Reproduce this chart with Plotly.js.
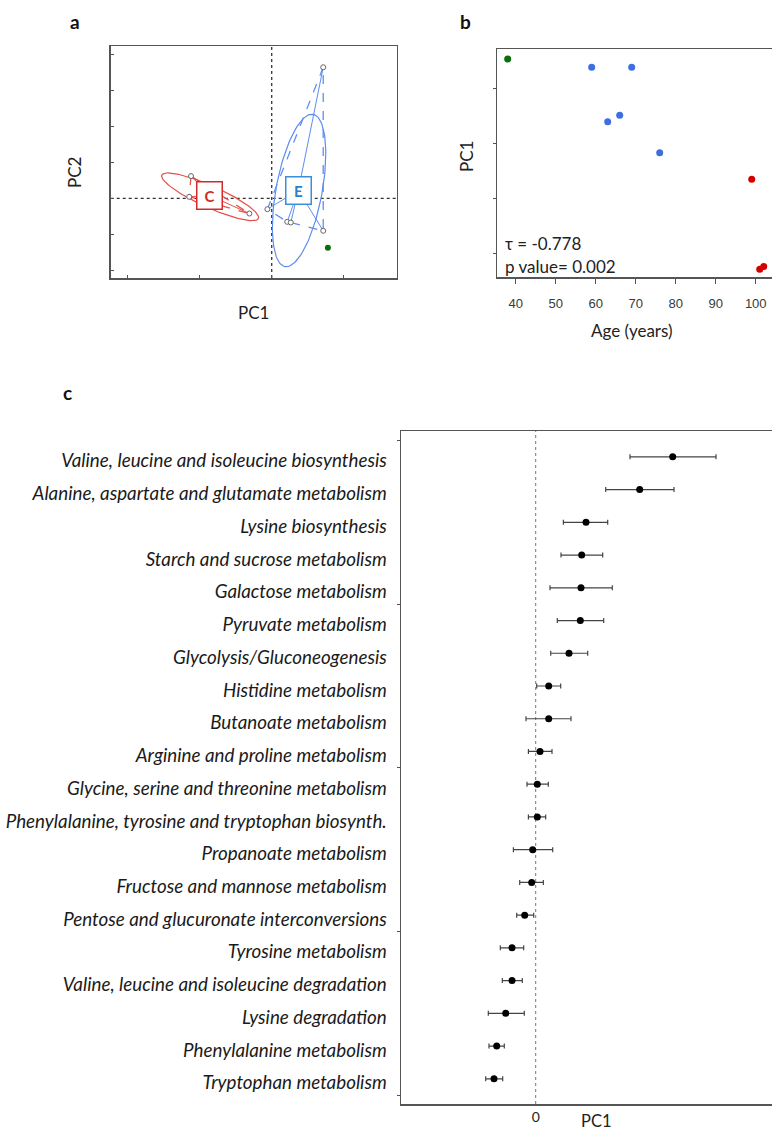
<!DOCTYPE html>
<html>
<head>
<meta charset="utf-8">
<script src="https://cdn.plot.ly/plotly-3.0.1.min.js"></script>
<style>html,body{margin:0;padding:0;background:#fff;}#chart{width:772px;height:1133px;}</style>
</head>
<body>
<div id="chart"></div>
<script>
// ---------- Panel a data (PCA scores) ----------
const cPC1 = [-2.24, -2.29, -0.62];
const cPC2 = [0.62, 0.044, -0.42];
const ePC1 = [1.43, -0.12, 0.43, 0.53, 1.43];
const ePC2 = [3.64, -0.30, -0.65, -0.67, -0.90];
const gPC1 = [1.56];
const gPC2 = [-1.37];
// confidence ellipses: [centre x, centre y, semi-major, semi-minor, angle deg]
const cEllipse = [-1.71, 0.044, 1.47, 0.30, -24.2];
const eEllipse = [0.76, 0.22, 2.15, 0.64, 79.5];
const cHullOrder = [0, 1, 2, 0];
const eHullOrder = [0, 1, 2, 3, 4, 0];

// ---------- Panel b data ----------
const ageGreen = [38];
const pcGreen = [3.53];
const ageBlue = [59, 69, 63, 66, 76];
const pcBlue = [3.38, 3.38, 2.39, 2.51, 1.83];
const ageRed = [99, 101, 102];
const pcRed = [1.35, -0.28, -0.23];
const tauText = "τ = -0.778";
const pText = "p value= 0.002";
const ageTicks = [40, 50, 60, 70, 80, 90, 100];

// ---------- Panel c data ----------
const pathways = [
  "Valine, leucine and isoleucine biosynthesis",
  "Alanine, aspartate and glutamate metabolism",
  "Lysine biosynthesis",
  "Starch and sucrose metabolism",
  "Galactose metabolism",
  "Pyruvate metabolism",
  "Glycolysis/Gluconeogenesis",
  "Histidine metabolism",
  "Butanoate metabolism",
  "Arginine and proline metabolism",
  "Glycine, serine and threonine metabolism",
  "Phenylalanine, tyrosine and tryptophan biosynth.",
  "Propanoate metabolism",
  "Fructose and mannose metabolism",
  "Pentose and glucuronate interconversions",
  "Tyrosine metabolism",
  "Valine, leucine and isoleucine degradation",
  "Lysine degradation",
  "Phenylalanine metabolism",
  "Tryptophan metabolism"
];
const pcMean = [2.74, 2.08, 1.006, 0.92, 0.906, 0.892, 0.666, 0.26, 0.26, 0.086, 0.032, 0.032, -0.06, -0.08, -0.22, -0.474, -0.474, -0.60, -0.78, -0.834];
const pcLow  = [1.886, 1.40, 0.553, 0.506, 0.286, 0.432, 0.30, 0.02, -0.194, -0.146, -0.174, -0.146, -0.446, -0.32, -0.38, -0.708, -0.668, -0.948, -0.934, -1.00];
const pcHigh = [3.606, 2.766, 1.44, 1.34, 1.532, 1.36, 1.04, 0.50, 0.706, 0.326, 0.252, 0.20, 0.34, 0.153, -0.04, -0.24, -0.268, -0.228, -0.628, -0.66];

// ---------- helpers ----------
const W = 772, H = 1133;
const px = v => v / W;
const py = v => 1 - v / H;
function ellipse(p) {
  const xs = [], ys = [];
  const t = p[4] * Math.PI / 180;
  for (let i = 0; i <= 120; i++) {
    const a = 2 * Math.PI * i / 120;
    const u = p[2] * Math.cos(a), v = p[3] * Math.sin(a);
    xs.push(p[0] + u * Math.cos(t) - v * Math.sin(t));
    ys.push(p[1] + u * Math.sin(t) + v * Math.cos(t));
  }
  return [xs, ys];
}
const mean = a => a.reduce((s, v) => s + v, 0) / a.length;
function spokes(xs, ys) {
  const cx = mean(xs), cy = mean(ys);
  const ox = [], oy = [];
  xs.forEach((x, i) => { ox.push(cx, x, null); oy.push(cy, ys[i], null); });
  return [ox, oy, cx, cy];
}

const RED = '#e5504a', BLUE = '#5c8ef0';
const traces = [];
const cE = ellipse(cEllipse), eE = ellipse(eEllipse);
traces.push({x: cE[0], y: cE[1], mode: 'lines', line: {color: RED, width: 1.2}, xaxis: 'x', yaxis: 'y', hoverinfo: 'skip'});
traces.push({x: eE[0], y: eE[1], mode: 'lines', line: {color: BLUE, width: 1.2}, xaxis: 'x', yaxis: 'y', hoverinfo: 'skip'});
traces.push({x: cHullOrder.map(i => cPC1[i]), y: cHullOrder.map(i => cPC2[i]), mode: 'lines', line: {color: RED, width: 1.3, dash: 'dash'}, xaxis: 'x', yaxis: 'y'});
traces.push({x: eHullOrder.map(i => ePC1[i]), y: eHullOrder.map(i => ePC2[i]), mode: 'lines', line: {color: BLUE, width: 1.3, dash: 'dash'}, xaxis: 'x', yaxis: 'y'});
const cS = spokes(cPC1, cPC2), eS = spokes(ePC1, ePC2);
traces.push({x: cS[0], y: cS[1], mode: 'lines', line: {color: RED, width: 1}, xaxis: 'x', yaxis: 'y'});
traces.push({x: eS[0], y: eS[1], mode: 'lines', line: {color: BLUE, width: 1}, xaxis: 'x', yaxis: 'y'});
traces.push({x: cPC1.concat(ePC1), y: cPC2.concat(ePC2), mode: 'markers', marker: {symbol: 'circle', size: 5, color: '#fff', line: {color: '#666', width: 1}}, xaxis: 'x', yaxis: 'y'});
traces.push({x: gPC1, y: gPC2, mode: 'markers', marker: {size: 6, color: '#0a6e0a'}, xaxis: 'x', yaxis: 'y'});

// panel b
traces.push({x: ageGreen, y: pcGreen, mode: 'markers', marker: {size: 7, color: '#0b6e0b'}, xaxis: 'x2', yaxis: 'y2', cliponaxis: false});
traces.push({x: ageBlue, y: pcBlue, mode: 'markers', marker: {size: 7, color: '#3d6fe0'}, xaxis: 'x2', yaxis: 'y2'});
traces.push({x: ageRed, y: pcRed, mode: 'markers', marker: {size: 7, color: '#d40000'}, xaxis: 'x2', yaxis: 'y2'});

// panel c
const rowIdx = pathways.map((_, i) => i);
traces.push({
  x: pcMean, y: rowIdx, mode: 'markers', xaxis: 'x3', yaxis: 'y3',
  marker: {size: 7, color: '#000'},
  error_x: {type: 'data', symmetric: false,
    array: pcHigh.map((h, i) => h - pcMean[i]),
    arrayminus: pcMean.map((m, i) => m - pcLow[i]),
    color: '#444', thickness: 1.2, width: 2.5}
});

const annoFont = {family: 'Lato, "Open Sans", sans-serif', size: 17, color: '#222'};
function txt(text, x, y, extra) {
  return Object.assign({text: text, x: px(x), y: py(y), xref: 'paper', yref: 'paper', xanchor: 'center', yanchor: 'middle', showarrow: false, font: annoFont}, extra || {});
}
const labelFont = {family: 'Lato', size: 19, color: '#111'};
const annotations = [
  txt('<b>a</b>', 75, 21, {font: labelFont}),
  txt('<b>b</b>', 465, 21, {font: labelFont}),
  txt('<b>c</b>', 67, 392, {font: labelFont}),
  txt('PC2', 75, 173, {textangle: -90}),
  txt('PC1', 253, 313),
  txt('PC1', 466, 157, {textangle: -90}),
  txt('Age (years)', 632, 331),
  txt('PC1', 596, 1121, {font: {family: 'Lato', size: 16.5, color: '#222'}}),
  txt(tauText, 503, 243, {xanchor: 'left', font: {family: 'Lato', size: 17, color: '#222'}}),
  txt(pText, 503, 266, {xanchor: 'left', font: {family: 'Lato', size: 17, color: '#222'}}),
  {text: '<b>C</b>', x: cS[2], y: cS[3], xref: 'x', yref: 'y', xanchor: 'center', yanchor: 'middle', showarrow: false, font: {family: 'Lato', size: 15, color: '#d42a2a'}, bgcolor: '#fff', bordercolor: '#d42a2a', borderwidth: 1.5, borderpad: 3, width: 18, height: 20},
  {text: '<b>E</b>', x: eS[2], y: eS[3], xref: 'x', yref: 'y', xanchor: 'center', yanchor: 'middle', showarrow: false, font: {family: 'Lato', size: 15, color: '#2a7fd0'}, bgcolor: '#fff', bordercolor: '#3a8fd8', borderwidth: 1.5, borderpad: 3, width: 18, height: 20}
];

const shapes = [
  {type: 'line', xref: 'x', yref: 'y domain', x0: 0, x1: 0, y0: 0, y1: 1, line: {color: '#333', width: 1.3, dash: 'dot'}, layer: 'below'},
  {type: 'line', xref: 'x domain', yref: 'y', x0: 0, x1: 1, y0: 0, y1: 0, line: {color: '#333', width: 1.3, dash: 'dot'}, layer: 'below'},
  {type: 'line', xref: 'x3', yref: 'y3 domain', x0: 0, x1: 0, y0: 0, y1: 1, line: {color: '#777', width: 1, dash: 'dot'}, layer: 'below'}
];

const LINE = '#555';
const layout = {
  width: W, height: H, margin: {l: 0, r: 0, t: 0, b: 0},
  paper_bgcolor: '#fff', plot_bgcolor: '#fff', showlegend: false,
  annotations: annotations, shapes: shapes,
  xaxis: {domain: [px(110.7), px(396.7)], range: [-4.47, 3.47], tickvals: [-4, -2, 0, 2], ticks: 'inside', ticklen: 3, tickcolor: LINE,
    showticklabels: false, showgrid: false, zeroline: false, showline: true, mirror: true, linecolor: LINE, linewidth: 1.5, anchor: 'y'},
  yaxis: {domain: [py(278), py(46)], range: [-2.21, 4.23], tickvals: [-2, -1, 0, 1, 2, 3, 4], ticks: 'inside', ticklen: 3, tickcolor: LINE,
    showticklabels: false, showgrid: false, zeroline: false, showline: true, mirror: true, linecolor: LINE, linewidth: 1.5, anchor: 'x'},
  xaxis2: {domain: [px(497), 1], range: [35.33, 104.07], tickvals: ageTicks, ticks: 'outside', ticklen: 5, tickcolor: LINE,
    tickfont: {family: '"Liberation Sans", Arial, sans-serif', size: 13, color: '#3a3a3a'}, ticklabelstandoff: 9,
    showgrid: false, zeroline: false, showline: true, mirror: true, linecolor: LINE, linewidth: 1.5, anchor: 'y2'},
  yaxis2: {domain: [py(277), py(49)], range: [-0.42, 3.71], tickvals: [0, 1, 2, 3], ticks: 'outside', ticklen: 3, tickcolor: LINE,
    showticklabels: false, showgrid: false, zeroline: false, showline: true, linecolor: LINE, linewidth: 1.5, anchor: 'x2'},
  xaxis3: {domain: [px(401), 1], range: [-2.694, 4.726], tickvals: [0], ticktext: ['0'], ticks: '',
    tickfont: {family: 'Lato', size: 14, color: '#222'}, ticklabelstandoff: 0,
    showgrid: false, zeroline: false, showline: true, mirror: true, linecolor: LINE, linewidth: 1.5, anchor: 'y3'},
  yaxis3: {domain: [py(1104), py(431)], range: [19.77, -0.79], tickvals: rowIdx, ticktext: pathways, ticks: '',
    tickfont: {family: 'Lato', size: 18.8, color: '#1a1a1a', style: 'italic'}, ticklabelstandoff: 9, ticklabelshift: -4,
    minor: {tickvals: [-0.5, 4.5, 9.5, 14.5, 19.5], ticks: 'outside', ticklen: 3, tickcolor: LINE, showgrid: false},
    showgrid: false, zeroline: false, showline: true, linecolor: LINE, linewidth: 1.5, anchor: 'x3'}
};

Plotly.newPlot('chart', traces, layout, {staticPlot: true, displayModeBar: false});
</script>
</body>
</html>
